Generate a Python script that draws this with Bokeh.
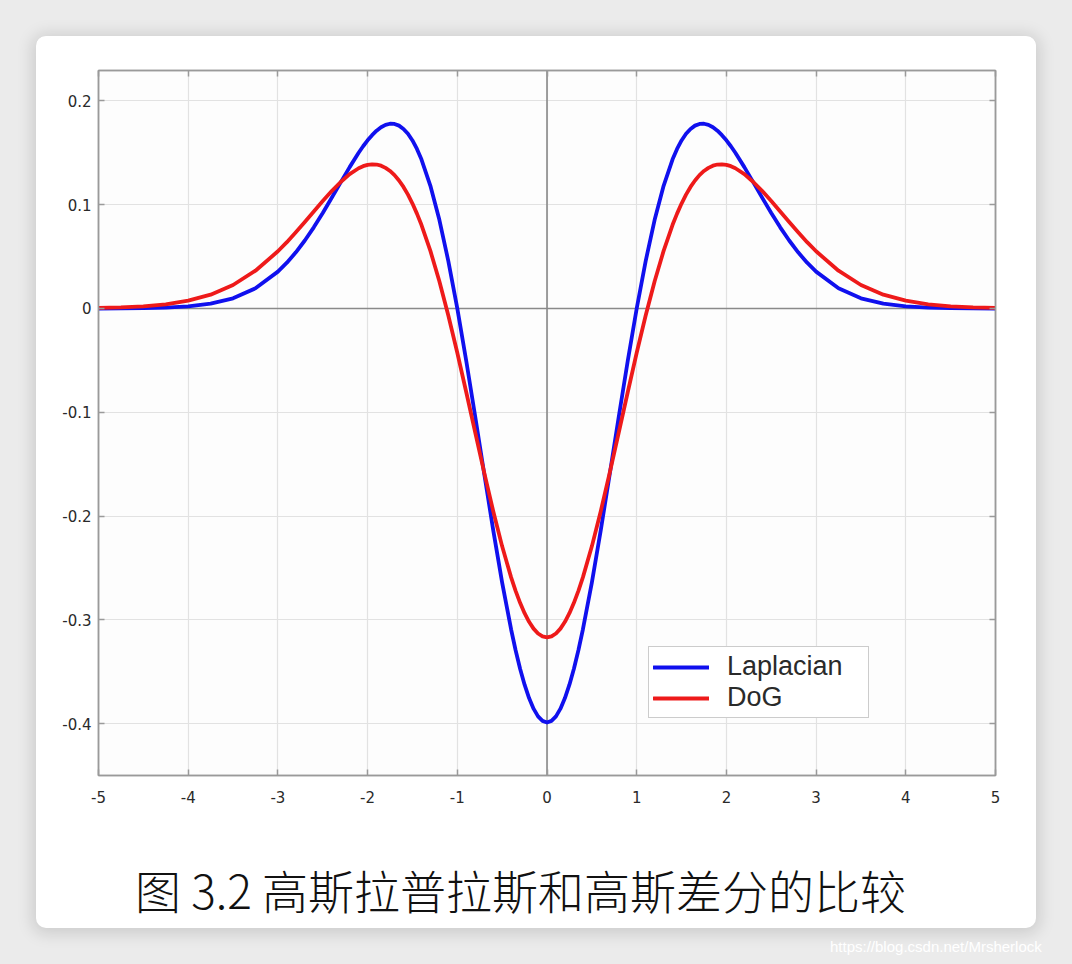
from bokeh.plotting import figure
from bokeh.models import (Range1d, Span, Legend, LegendItem, FixedTicker,
                          LinearAxis, Div)
from bokeh.layouts import column
from bokeh.embed import file_html
from bokeh.resources import INLINE

# ---------------- data ----------------
x_vals = [-5.0, -4.75, -4.5, -4.25, -4.0, -3.75, -3.5, -3.25,
          -3.0, -2.9, -2.8, -2.7, -2.6, -2.5, -2.4, -2.3, -2.2, -2.1, -2.05,
          -2.0, -1.95, -1.9, -1.85, -1.8, -1.75, -1.7, -1.65, -1.6, -1.55,
          -1.5, -1.45, -1.4, -1.3, -1.2, -1.1, -1.0, -0.9, -0.8, -0.7, -0.6,
          -0.5, -0.4, -0.35, -0.3, -0.25, -0.2, -0.15, -0.1, -0.05,
          0.0,
          0.05, 0.1, 0.15, 0.2, 0.25, 0.3, 0.35, 0.4, 0.5,
          0.6, 0.7, 0.8, 0.9, 1.0, 1.1, 1.2, 1.3, 1.4, 1.45, 1.5,
          1.55, 1.6, 1.65, 1.7, 1.75, 1.8, 1.85, 1.9, 1.95, 2.0,
          2.05, 2.1, 2.2, 2.3, 2.4, 2.5, 2.6, 2.7, 2.8, 2.9, 3.0,
          3.25, 3.5, 3.75, 4.0, 4.25, 4.5, 4.75, 5.0]

laplacian = [0.0, 0.0001, 0.0003, 0.0008, 0.0020, 0.0046, 0.0098, 0.0194,
             0.0355, 0.0441, 0.0541, 0.0655, 0.0782, 0.0920, 0.1066, 0.1215, 0.1362, 0.1500, 0.1563,
             0.1620, 0.1670, 0.1713, 0.1746, 0.1769, 0.1780, 0.1778, 0.1762, 0.1730, 0.1683,
             0.1619, 0.1537, 0.1437, 0.1182, 0.0854, 0.0457, 0.0, -0.0506, -0.1043, -0.1592, -0.2133,
             -0.2641, -0.3093, -0.3293, -0.3471, -0.3625, -0.3754, -0.3856, -0.3930, -0.3974,
             -0.3989,
             -0.3974, -0.3930, -0.3856, -0.3754, -0.3625, -0.3471, -0.3293, -0.3093, -0.2641,
             -0.2133, -0.1592, -0.1043, -0.0506, 0.0, 0.0457, 0.0854, 0.1182, 0.1437, 0.1537, 0.1619,
             0.1683, 0.1730, 0.1762, 0.1778, 0.1780, 0.1769, 0.1746, 0.1713, 0.1670, 0.1620,
             0.1563, 0.1500, 0.1362, 0.1215, 0.1066, 0.0920, 0.0782, 0.0655, 0.0541, 0.0441, 0.0355,
             0.0194, 0.0098, 0.0046, 0.0020, 0.0008, 0.0003, 0.0001, 0.0]

dog = [0.0005, 0.0010, 0.0020, 0.0040, 0.0075, 0.0133, 0.0226, 0.0364,
       0.0551, 0.0639, 0.0734, 0.0833, 0.0934, 0.1035, 0.1131, 0.1219, 0.1295, 0.1351, 0.1371,
       0.1384, 0.1389, 0.1387, 0.1376, 0.1355, 0.1325, 0.1285, 0.1233, 0.1171, 0.1097,
       0.1011, 0.0914, 0.0806, 0.0555, 0.0262, -0.0068, -0.0427, -0.0807, -0.1195, -0.1581, -0.1951,
       -0.2292, -0.2591, -0.2721, -0.2836, -0.2936, -0.3019, -0.3085, -0.3132, -0.3160,
       -0.3170,
       -0.3160, -0.3132, -0.3085, -0.3019, -0.2936, -0.2836, -0.2721, -0.2591, -0.2292,
       -0.1951, -0.1581, -0.1195, -0.0807, -0.0427, -0.0068, 0.0262, 0.0555, 0.0806, 0.0914, 0.1011,
       0.1097, 0.1171, 0.1233, 0.1285, 0.1325, 0.1355, 0.1376, 0.1387, 0.1389, 0.1384,
       0.1371, 0.1351, 0.1295, 0.1219, 0.1131, 0.1035, 0.0934, 0.0833, 0.0734, 0.0639, 0.0551,
       0.0364, 0.0226, 0.0133, 0.0075, 0.0040, 0.0020, 0.0010, 0.0005]

x_ticks = [-5, -4, -3, -2, -1, 0, 1, 2, 3, 4, 5]
x_tick_labels = ["-5", "-4", "-3", "-2", "-1", "0", "1", "2", "3", "4", "5"]
y_ticks = [-0.4, -0.3, -0.2, -0.1, 0, 0.1, 0.2]
y_tick_labels = ["-0.4", "-0.3", "-0.2", "-0.1", "0", "0.1", "0.2"]

series_names = ["Laplacian", "DoG"]
title_text = "图 3.2 高斯拉普拉斯和高斯差分的比较"
watermark_text = "https://blog.csdn.net/Mrsherlock"

# ---------------- figure ----------------
p = figure(width=1000, height=785,
           x_range=Range1d(-5, 5), y_range=Range1d(-0.45, 0.2293),
           output_backend="svg", toolbar_location=None,
           min_border_left=62, min_border_right=41,
           min_border_top=34, min_border_bottom=46,
           x_axis_location=None, y_axis_location=None)
p.background_fill_color = "#fdfdfd"
p.border_fill_color = "white"
p.outline_line_color = "#9a9a9a"
p.outline_line_width = 1.5

AX = "#9a9a9a"
TXT = "#2a2a2a"


def make_axis(ticks, labels, show_labels, standoff):
    ax = LinearAxis(ticker=FixedTicker(ticks=ticks))
    ax.major_label_overrides = {t: l for t, l in zip(ticks, labels)}
    ax.axis_line_color = AX
    ax.axis_line_width = 1.5
    ax.major_tick_line_color = AX
    ax.major_tick_line_width = 1.5
    ax.major_tick_in = 6
    ax.major_tick_out = 0
    ax.minor_tick_line_color = None
    ax.major_label_standoff = standoff
    ax.major_label_text_font = "DejaVu Sans"
    ax.major_label_text_font_size = "15px" if show_labels else "0px"
    ax.major_label_text_color = TXT if show_labels else None
    return ax


p.add_layout(make_axis(x_ticks, x_tick_labels, True, 15), "below")
p.add_layout(make_axis(y_ticks, y_tick_labels, True, 7), "left")
p.add_layout(make_axis(x_ticks, x_tick_labels, False, 0), "above")
p.add_layout(make_axis(y_ticks, y_tick_labels, False, 0), "right")

p.xgrid.ticker = FixedTicker(ticks=x_ticks)
p.ygrid.ticker = FixedTicker(ticks=y_ticks)
for g in (p.xgrid, p.ygrid):
    g.grid_line_color = "#e2e2e2"
    g.grid_line_width = 1.2

p.add_layout(Span(location=0, dimension="width", line_color="#8a8a8a",
                  line_width=1.6, level="underlay"))
p.add_layout(Span(location=0, dimension="height", line_color="#8a8a8a",
                  line_width=1.6, level="underlay"))

r_lap = p.line(x_vals, laplacian, line_color="#1010ee", line_width=3.8,
               line_join="round", line_cap="round")
r_dog = p.line(x_vals, dog, line_color="#ee1a1a", line_width=3.8,
               line_join="round", line_cap="round")

legend = Legend(items=[LegendItem(label=series_names[0], renderers=[r_lap]),
                       LegendItem(label=series_names[1], renderers=[r_dog])],
                location=(550, 57))
legend.label_text_font = "Liberation Sans"
legend.label_text_font_size = "27px"
legend.label_text_color = TXT
legend.glyph_width = 56
legend.glyph_height = 26
legend.label_height = 26
legend.label_width = 137
legend.label_standoff = 18
legend.spacing = 0
legend.padding = 4
legend.margin = 0
legend.border_line_color = "#9a9a9a"
legend.border_line_width = 1.5
legend.background_fill_color = "white"
legend.background_fill_alpha = 1.0
p.add_layout(legend, "center")

title_div = Div(
    text=('<div style="padding:45px 0 0 99px; font-size:46px; line-height:46px; '
          "font-family:'Noto Sans CJK SC Light','Noto Sans CJK SC'; "
          'color:#111111; white-space:nowrap;">' + title_text + '</div>'),
    width=1000, height=107)
title_div.margin = (0, 0, 0, 0)

card = column(p, title_div, spacing=0,
              styles={"background-color": "white", "border-radius": "10px",
                      "overflow": "hidden",
                      "box-shadow": "0 2px 16px 4px rgba(0,0,0,0.13)"})
card.margin = (36, 36, 0, 36)

wm = Div(text=watermark_text, width=230, height=28,
         styles={"color": "white", "font-family": "Liberation Sans",
                 "font-size": "15px", "white-space": "nowrap"})
wm.margin = (8, 0, 0, 830)

root = column(card, wm, styles={"background-color": "#ebebeb"})

open("out.html", "w").write(file_html(root, INLINE))
